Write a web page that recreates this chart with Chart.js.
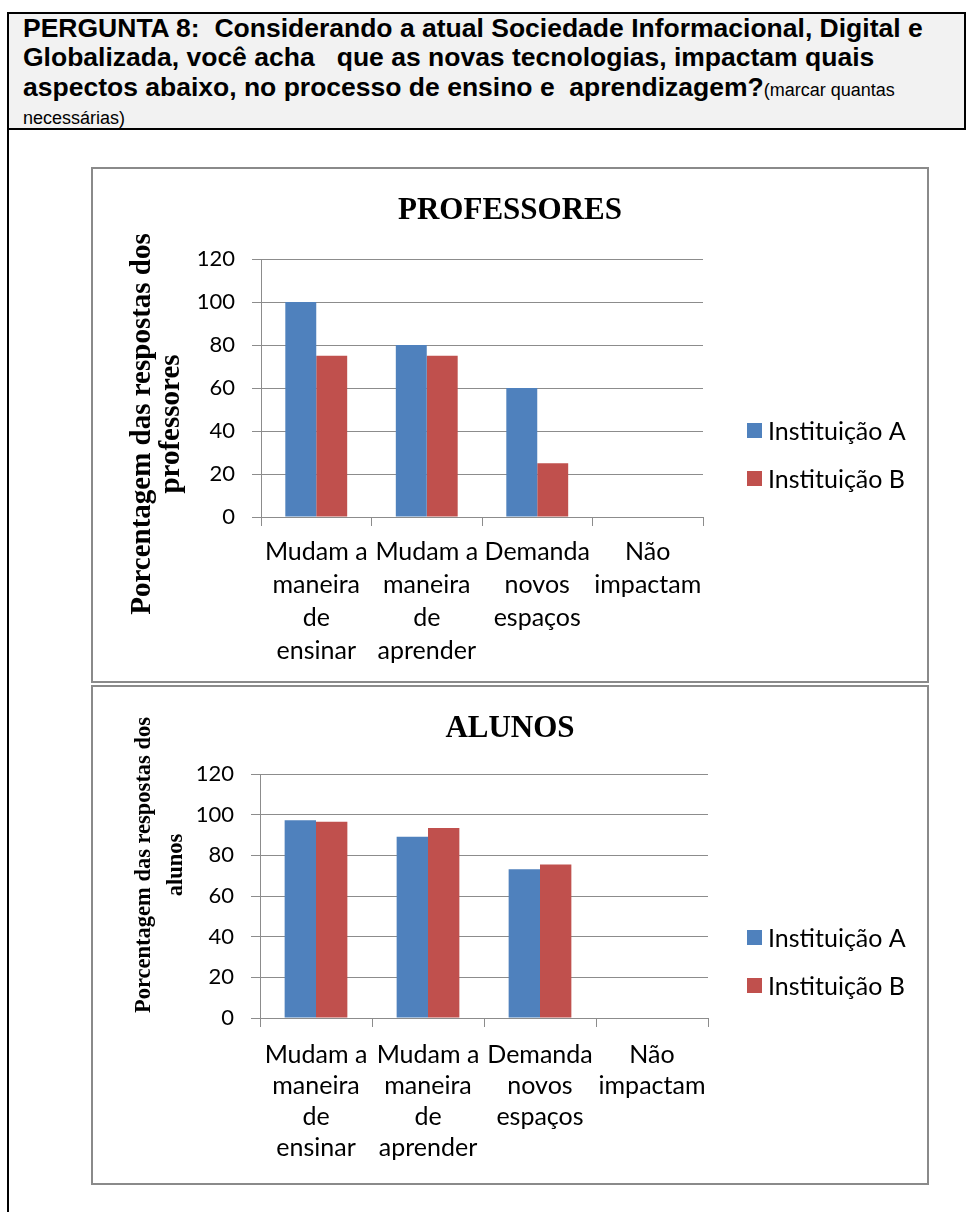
<!DOCTYPE html>
<html lang="pt">
<head>
<meta charset="UTF-8">
<title>Pergunta 8</title>
<script src="https://cdn.jsdelivr.net/npm/chart.js@4.4.0/dist/chart.umd.min.js"></script>
<style>
  body { margin: 0; width: 966px; height: 1212px; overflow: hidden; background: #fff; position: relative; }
  #hdr { position: absolute; left: 7px; top: 12px; width: 959px; height: 118px; box-sizing: border-box;
         border: 2px solid #000; background: #f2f2f2; }
  .ln { position: absolute; left: 23px; white-space: pre; font-family: Arial, "Liberation Sans", sans-serif; color: #000; }
  .big { font-weight: bold; font-size: 26.5px; line-height: 30px; }
  .small { font-weight: normal; font-size: 18px; }
  #leftline { position: absolute; left: 7px; top: 130px; width: 2px; height: 1082px; background: #000; }
  .box { position: absolute; left: 91px; width: 838px; box-sizing: border-box; border: 2px solid #8a8a8a; }
  .box canvas { position: absolute; left: -2px; top: -2px; }
</style>
</head>
<body>

<div id="hdr"></div>
<div class="ln big" style="top:13px">PERGUNTA 8:  Considerando a atual Sociedade Informacional, Digital e</div>
<div class="ln big" style="top:42px">Globalizada, você acha   que as novas tecnologias, impactam quais</div>
<div class="ln big" style="top:72px">aspectos abaixo, no processo de ensino e  aprendizagem?<span class="small">(marcar quantas</span></div>
<div class="ln small" style="top:108px; line-height:20px">necessárias)</div>
<div id="leftline"></div>

<div class="box" style="top:167px; height:516px;">
  <canvas id="chartProf" width="838" height="516"></canvas>
</div>
<div class="box" style="top:685px; height:500px;">
  <canvas id="chartAlun" width="838" height="500"></canvas>
</div>

<script>
// categories (multi-line labels as in the original)
const categories = [
    ['Mudam a', 'maneira', 'de', 'ensinar'],
    ['Mudam a', 'maneira', 'de', 'aprender'],
    ['Demanda', 'novos', 'espaços'],
    ['Não', 'impactam']
];
const seriesNames = ['Instituição A', 'Instituição B'];

// professores
const profA = [100, 80, 60, 0];
const profB = [75, 75, 25, 0];

// alunos
const alunA = [97.2, 89.2, 73.1, 0];
const alunB = [96.5, 93.4, 75.5, 0];

const yMin = 0, yMax = 120, yStep = 20;

const blue = '#4f81bd';
const red = '#c0504d';
const gridColor = '#8c8c8c';

// title, rotated axis title and legend
const annot = {
    id: 'annot',
    afterDraw(chart, args, o) {
        const ctx = chart.ctx;
        ctx.save();
        ctx.fillStyle = '#000';
        ctx.textAlign = 'center';
        ctx.textBaseline = 'middle';
        ctx.font = 'bold 31px "Liberation Serif", "Times New Roman", serif';
        ctx.fillText(o.title, o.titleX, o.titleY);

        ctx.font = 'bold ' + o.ySize + 'px "Liberation Serif", "Times New Roman", serif';
        o.yLines.forEach(function(t, i) {
            ctx.save();
            ctx.translate(o.yX[i], o.yY);
            ctx.rotate(-Math.PI / 2);
            ctx.fillText(t, 0, 0);
            ctx.restore();
        });

        ctx.textAlign = 'left';
        ctx.font = '25px Lato, sans-serif';
        chart.data.datasets.forEach(function(ds, i) {
            const cy = o.legY[i];
            ctx.fillStyle = ds.backgroundColor;
            ctx.fillRect(o.legX, cy - 8, 15, 15);
            ctx.fillStyle = '#000';
            ctx.fillText(ds.label, o.legX + 21, cy + 1);
        });
        ctx.restore();
    }
};

function makeChart(id, a, b, cfg) {
    const ctx = document.getElementById(id).getContext('2d');
    return new Chart(ctx, {
        type: 'bar',
        data: {
            labels: categories,
            datasets: [
                { label: seriesNames[0], data: a, backgroundColor: blue, borderWidth: 0,
                  barPercentage: 1, categoryPercentage: 0.56 },
                { label: seriesNames[1], data: b, backgroundColor: red, borderWidth: 0,
                  barPercentage: 1, categoryPercentage: 0.56 }
            ]
        },
        options: {
            responsive: false,
            animation: false,
            layout: { padding: { left: 0, right: cfg.padRight, top: cfg.padTop, bottom: 0 } },
            plugins: {
                legend: { display: false },
                title: { display: false },
                tooltip: { enabled: false },
                annot: cfg.annot
            },
            scales: {
                x: {
                    grid: { offset: true, drawOnChartArea: false, tickLength: 9, color: gridColor },
                    border: { color: gridColor },
                    ticks: {
                        color: '#000',
                        font: { family: 'Lato', size: 25, lineHeight: cfg.lineH },
                        padding: cfg.xPad,
                        maxRotation: 0,
                        autoSkip: false
                    },
                    afterFit: function(s) { s.height = cfg.xh; }
                },
                y: {
                    min: yMin,
                    max: yMax,
                    grid: { color: gridColor, tickLength: 9 },
                    border: { color: gridColor },
                    ticks: {
                        stepSize: yStep,
                        color: '#000',
                        font: { family: 'Lato', size: 22 },
                        padding: 17
                    },
                    afterFit: function(s) { s.width = cfg.yw; }
                }
            }
        },
        plugins: [annot]
    });
}

makeChart('chartProf', profA, profB, {
    padRight: 226, padTop: 92, xh: 166, yw: 170, xPad: 9, lineH: 1.32,
    annot: {
        title: 'PROFESSORES', titleX: 419, titleY: 44,
        yLines: ['Porcentagem das respostas dos', 'professores'],
        ySize: 29, yX: [52, 81], yY: 257,
        legX: 656, legY: [264, 312]
    }
});

makeChart('chartAlun', alunA, alunB, {
    padRight: 221, padTop: 89, xh: 167, yw: 169, xPad: 12, lineH: 1.24,
    annot: {
        title: 'ALUNOS', titleX: 419, titleY: 44,
        yLines: ['Porcentagem das respostas dos', 'alunos'],
        ySize: 22.5, yX: [53, 85], yY: 180,
        legX: 656, legY: [253, 301]
    }
});
</script>
</body>
</html>
